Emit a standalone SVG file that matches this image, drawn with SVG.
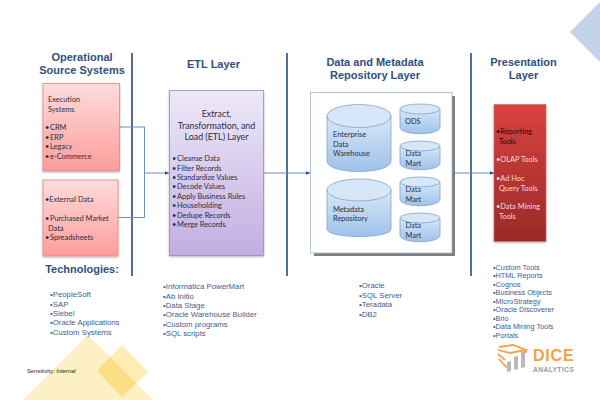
<svg xmlns="http://www.w3.org/2000/svg" width="600" height="400" viewBox="0 0 600 400">
<style>
text{font-family:"Liberation Sans",Arial,sans-serif}
.h{font-size:11px;font-weight:bold;fill:#2f4f82;text-anchor:middle}
text.t{font-size:7.400px;fill:#26303f;font-family:Lato,"Liberation Sans",sans-serif}
text.e{font-size:8.900px;text-anchor:middle}
text.k{fill:#2a0808}
text.w{fill:#f6dada}
.b{font-size:7.8px;fill:#3f5c8f}
.s{font-size:7.300px}
.v{stroke:#2a4b7f;stroke-width:1.6;fill:none}
.c{stroke:#6d8fbc;stroke-width:1;fill:none}
.cyl{fill:url(#blue);stroke:#7ea3cf;stroke-width:.8}
.top{fill:#d8e7f8;stroke:#7ea3cf;stroke-width:.8}
.box{filter:url(#sh)}
</style>
<defs>
<linearGradient id="pink" x1="0" y1="0" x2="0" y2="1"><stop offset="0" stop-color="#ffdcdc"/><stop offset="1" stop-color="#fb9d9b"/></linearGradient>
<linearGradient id="purple" x1="0" y1="0" x2="0" y2="1"><stop offset="0" stop-color="#eee8f8"/><stop offset="1" stop-color="#c2aee2"/></linearGradient>
<linearGradient id="red" x1="0" y1="0" x2="0" y2="1"><stop offset="0" stop-color="#d84240"/><stop offset="1" stop-color="#992a28"/></linearGradient>
<linearGradient id="blue" x1="0" y1="0" x2="0" y2="1"><stop offset="0" stop-color="#d8e7f8"/><stop offset="1" stop-color="#9fc2ea"/></linearGradient>
<filter id="sh" x="-10%" y="-10%" width="120%" height="120%"><feDropShadow dx="0" dy="1" stdDeviation=".8" flood-color="#000" flood-opacity=".3"/></filter>
<marker id="a" markerWidth="5" markerHeight="5" refX="4" refY="2.5" orient="auto"><path d="M0 .8L4 2.5L0 4.200Z" fill="#2a4b7f"/></marker>
</defs>
<rect width="600" height="400" fill="#fff"/>
<g id="decor">
<path d="M23 400L88 335L153 400Z" fill="#fdf0c4"/>
<path d="M122 345L97 371L122 397L148 372Z" fill="#feecb4"/>
<path d="M97 371L110 357L136 383L122 397Z" fill="#fcdf85"/>
<path d="M570 32L600 2V62Z" fill="#c5d3ea"/>
</g>
<g id="dividers">
<path class="v" d="M132 53V276M287 53V276M471 53V276"/>
</g>
<g id="connectors">
<path class="c" d="M120 127H144.500V217.500H118"/>
<path class="c" d="M144 173H169" marker-end="url(#a)"/>
<path class="c" d="M264 173H310" marker-end="url(#a)"/>
<path class="c" d="M452 173H494" marker-end="url(#a)"/>
</g>
<g id="headers">
<text class="h" x="82" y="61">Operational</text><text class="h" x="82" y="74">Source Systems</text>
<text class="h" x="213.500" y="68">ETL Layer</text>
<text class="h" x="375" y="66">Data and Metadata</text><text class="h" x="375" y="79">Repository Layer</text>
<text class="h" x="523.500" y="66">Presentation</text><text class="h" x="523.500" y="79">Layer</text>
<text class="h" x="82" y="273">Technologies:</text>
</g>
<g id="execution">
<rect class="box" x="43" y="83.500" width="76.500" height="87.500" fill="url(#pink)" stroke="#e88583" stroke-width=".8"/>
<text class="t" x="48" y="102">Execution</text><text class="t" x="48" y="112">Systems</text>
<text class="t" x="45" y="130">•<tspan x="50">CRM</tspan></text><text class="t" x="45" y="139.500">•<tspan x="50">ERP</tspan></text><text class="t" x="45" y="149">•<tspan x="50">Legacy</tspan></text><text class="t" x="45" y="158.500">•<tspan x="50">e-Commerce</tspan></text>
</g>
<g id="external">
<rect class="box" x="43" y="180" width="75" height="76" fill="url(#pink)" stroke="#e88583" stroke-width=".8"/>
<text class="t" x="45" y="202">•External Data</text>
<text class="t" x="45" y="221">•<tspan x="50">Purchased Market</tspan></text><text class="t" x="48" y="230.500">Data</text><text class="t" x="45" y="240">•<tspan x="50">Spreadsheets</tspan></text>
</g>
<g id="etl">
<rect class="box" x="169.500" y="90.500" width="94" height="165" fill="url(#purple)" stroke="#9a8bbf" stroke-width=".8"/>
<text class="t e" x="216.500" y="117">Extract,</text><text class="t e" x="216.500" y="128.500">Transformation, and</text><text class="t e" x="216.500" y="140">Load (ETL) Layer</text>
<text class="t" x="172" y="161">•<tspan x="177">Cleanse Data</tspan></text><text class="t" x="172" y="170.500">•<tspan x="177">Filter Records</tspan></text><text class="t" x="172" y="180">•<tspan x="177">Standardize Values</tspan></text><text class="t" x="172" y="189.400">•<tspan x="177">Decode Values</tspan></text><text class="t" x="172" y="198.800">•<tspan x="177">Apply Business Rules</tspan></text><text class="t" x="172" y="208.200">•<tspan x="177">Householding</tspan></text><text class="t" x="172" y="217.600">•<tspan x="177">Dedupe Records</tspan></text><text class="t" x="172" y="227">•<tspan x="177">Merge Records</tspan></text>
</g>
<g id="repository">
<rect x="314" y="96" width="141" height="160" fill="#7f7f7f"/>
<rect x="310.500" y="92.500" width="141.500" height="160.500" fill="#fff" stroke="#9db6d6" stroke-width=".8"/>
</g>
<g id="edw"><path class="cyl" d="M327 116V161C327 175 391 175 391 161V116Z"/><ellipse class="top" cx="359" cy="116" rx="32" ry="11.500"/>
<text class="t" x="333" y="137">Enterprise</text><text class="t" x="333" y="146.500">Data</text><text class="t" x="333" y="156">Warehouse</text></g>
<g id="meta"><path class="cyl" d="M327 190V229C327 239 391 239 391 229V190Z"/><ellipse class="top" cx="359" cy="190" rx="32" ry="11"/>
<text class="t" x="333" y="211.500">Metadata</text><text class="t" x="333" y="221">Repository</text></g>
<g id="ods"><path class="cyl" d="M400 109V127C400 136 440 136 440 127V109Z"/><ellipse class="top" cx="420" cy="109" rx="20" ry="5"/><text class="t" x="405" y="124">ODS</text></g>
<g id="mart1"><path class="cyl" d="M400 146V163C400 172 440 172 440 163V146Z"/><ellipse class="top" cx="420" cy="146" rx="20" ry="5"/><text class="t" x="405.500" y="156">Data</text><text class="t" x="405.500" y="165.500">Mart</text></g>
<g id="mart2"><path class="cyl" d="M400 182V199C400 208 440 208 440 199V182Z"/><ellipse class="top" cx="420" cy="182" rx="20" ry="5"/><text class="t" x="405.500" y="192">Data</text><text class="t" x="405.500" y="201.500">Mart</text></g>
<g id="mart3"><path class="cyl" d="M400 218V235C400 244 440 244 440 235V218Z"/><ellipse class="top" cx="420" cy="218" rx="20" ry="5"/><text class="t" x="405.500" y="228">Data</text><text class="t" x="405.500" y="237.500">Mart</text></g>
<g id="presentation">
<rect class="box" x="494" y="104.500" width="52" height="137" fill="url(#red)" stroke="#d86a68" stroke-width=".6"/>
<text class="t k" x="496" y="134">•Reporting</text><text class="t k" x="499" y="143.500">Tools</text>
<text class="t w" x="496" y="162">•OLAP Tools</text><text class="t w" x="496" y="181">•Ad Hoc</text><text class="t w" x="499" y="190.500">Query Tools</text><text class="t w" x="496" y="209">•Data Mining</text><text class="t w" x="499" y="218.500">Tools</text>
</g>
<g id="lists">
<text class="b" x="50" y="297">•PeopleSoft</text><text class="b" x="50" y="306.500">•SAP</text><text class="b" x="50" y="316">•Siebel</text><text class="b" x="50" y="325.300">•Oracle Applications</text><text class="b" x="50" y="334.700">•Custom Systems</text>
<text class="b" x="163" y="289">•Informatica PowerMart</text><text class="b" x="163" y="298.500">•Ab Initio</text><text class="b" x="163" y="308">•Data Stage</text><text class="b" x="163" y="317.300">•Oracle Warehouse Builder</text><text class="b" x="163" y="326.700">•Custom programs</text><text class="b" x="163" y="336">•SQL scripts</text>
<text class="b" x="359" y="288">•Oracle</text><text class="b" x="359" y="297.500">•SQL Server</text><text class="b" x="359" y="307">•Teradata</text><text class="b" x="359" y="316.500">•DB2</text>
<text class="b s" x="493" y="269.500">•Custom Tools</text><text class="b s" x="493" y="278">•HTML Reports</text><text class="b s" x="493" y="286.500">•Cognos</text><text class="b s" x="493" y="295">•Business Objects</text><text class="b s" x="493" y="303.500">•MicroStrategy</text><text class="b s" x="493" y="312">•Oracle Discoverer</text><text class="b s" x="493" y="320.500">•Brio</text><text class="b s" x="493" y="329">•Data Mining Tools</text><text class="b s" x="493" y="337.500">•Portals</text>
<text x="27" y="372.500" style="font-size:5.800px;fill:#222">Sensitivity: <tspan font-style="italic">Internal</tspan></text>
</g>
<g id="logo">
<path d="M499 347L513 345L526 350L510 353L498 350M498 354L505 360M499 359L506 367L510 365M526 350V353" fill="none" stroke="#f4a340" stroke-width="1.800"/>
<path d="M507 372V362L511 361V371ZM514 370V357L518 356V369ZM521 368V352L525 351V367Z" fill="#b9b9b9"/>
<text x="533" y="361" style="font-size:16px;font-weight:bold;fill:#f4a340;letter-spacing:.8px">DICE</text>
<text x="533" y="371.500" style="font-size:6.800px;fill:#9a9a9a;font-weight:bold;letter-spacing:.3px">ANALYTICS</text>
</g>
</svg>
